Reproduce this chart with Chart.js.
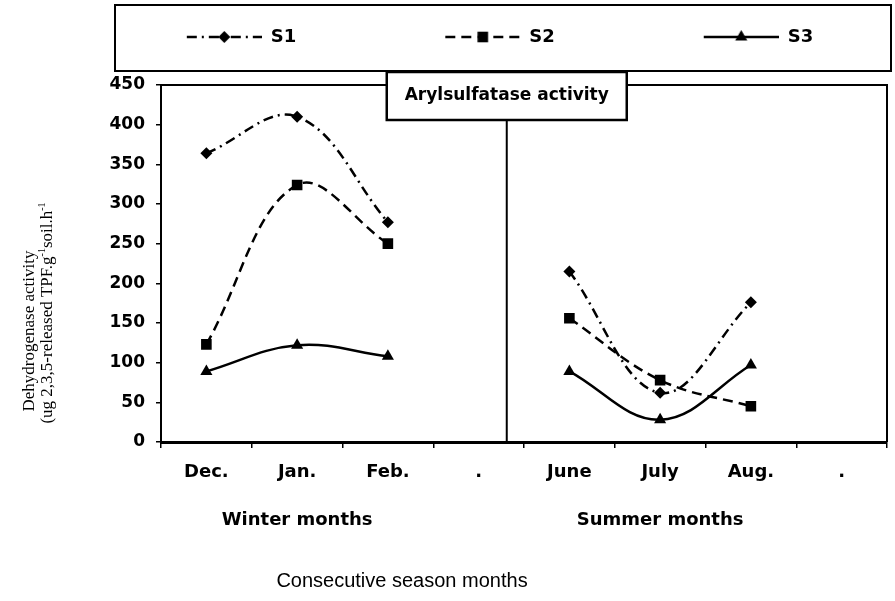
<!DOCTYPE html>
<html><head><meta charset="utf-8">
<script src="https://cdn.jsdelivr.net/npm/chart.js@4.4.0/dist/chart.umd.min.js"></script>
<style>html,body{margin:0;padding:0;background:#fff}#wrap{width:895px;height:601px;position:relative}</style>
</head><body><div id="wrap"><canvas id="c" width="895" height="601"></canvas></div>
<script>
// ---- data ----
const categories = ["Dec.", "Jan.", "Feb.", ".", "June", "July", "Aug.", "."];
const seasonLabels = ["", "Winter months", "", "", "", "Summer months", "", ""];
const seriesNames = ["S1", "S2", "S3"];
const s1Values = [364, 410, 277, null, 215, 62, 176, null];
const s2Values = [123, 324, 250, null, 156, 78, 45, null];
const s3Values = [89, 122, 108, null, 89, 28, 97, null];
const yMin = 0, yMax = 450, yStep = 50;
const panelTitle = "Arylsulfatase activity";
const xTitle = "Consecutive season months";
const yTitle1 = "Dehydrogenase activity";
const yTitle2Parts = [["(ug 2,3,5-released TPF.g", false], ["-1", true], ["soil.h", false], ["-1", true]];

const TICK_FONT = "DejaVu Sans";
const SERIF = "Liberation Serif";

function drawMarker(ctx, style, x, y) {
  ctx.beginPath();
  if (style === 'rectRot') {
    const r = 6;
    ctx.moveTo(x, y - r); ctx.lineTo(x + r, y); ctx.lineTo(x, y + r); ctx.lineTo(x - r, y); ctx.closePath();
  } else if (style === 'rect') {
    const h = 5.3;
    ctx.rect(x - h, y - h, 2 * h, 2 * h);
  } else {
    const r = 7;
    ctx.moveTo(x, y - r);
    ctx.lineTo(x + r * Math.sin(2 * Math.PI / 3), y - r * Math.cos(2 * Math.PI / 3));
    ctx.lineTo(x + r * Math.sin(4 * Math.PI / 3), y - r * Math.cos(4 * Math.PI / 3));
    ctx.closePath();
  }
  ctx.fill();
}

const SAMPLE_W = 188, SAMPLE_LINE = 75;
function makeSample(dash, style) {
  const cv = document.createElement('canvas');
  cv.width = SAMPLE_W; cv.height = 20;
  const g = cv.getContext('2d');
  g.strokeStyle = '#000'; g.fillStyle = '#000'; g.lineWidth = 2.5;
  g.setLineDash(dash);
  g.beginPath(); g.moveTo(SAMPLE_W - SAMPLE_LINE, 10); g.lineTo(SAMPLE_W, 10); g.stroke();
  g.setLineDash([]);
  drawMarker(g, style, SAMPLE_W - SAMPLE_LINE / 2, 10);
  return cv;
}

const dashes = [[10, 5, 2, 5], [10, 6], []];
const styles = ['rectRot', 'rect', 'triangle'];
const radii = [6, 7.5, 7];
const valueSets = [s1Values, s2Values, s3Values];

const datasets = seriesNames.map((name, i) => ({
  label: name,
  data: valueSets[i],
  borderColor: '#000',
  backgroundColor: '#000',
  borderWidth: 2.5,
  borderDash: dashes[i],
  pointStyle: styles[i],
  pointRadius: radii[i],
  pointHoverRadius: radii[i],
  pointBackgroundColor: '#000',
  pointBorderColor: '#000',
  pointBorderWidth: 0,
  tension: 0.38,
  spanGaps: false,
  fill: false
}));
const samples = seriesNames.map((n, i) => makeSample(dashes[i], styles[i]));

const deco = {
  id: 'deco',
  afterLayout(chart) {
    const lg = chart.legend;
    lg.top -= 29; lg.bottom -= 29;
  },
  afterDatasetsDraw(chart) {
    const {ctx, chartArea: a, scales: {x}} = chart;
    ctx.save();
    ctx.strokeStyle = '#000';
    // plot frame (top & right)
    ctx.lineWidth = 2;
    ctx.beginPath();
    ctx.moveTo(a.left, a.top); ctx.lineTo(a.right, a.top); ctx.lineTo(a.right, a.bottom);
    ctx.stroke();
    // divider between seasons
    const x3 = x.getPixelForValue(3), x4 = x.getPixelForValue(4);
    const xd = x3 + 0.31 * (x4 - x3);
    ctx.lineWidth = 2;
    ctx.beginPath(); ctx.moveTo(xd, a.top + 30); ctx.lineTo(xd, a.bottom); ctx.stroke();
    // panel title box
    ctx.font = 'bold 17px "' + TICK_FONT + '"';
    const bw = 240, bh = 48;
    const bx = xd - bw / 2, by = a.top - 13;
    ctx.fillStyle = '#fff';
    ctx.fillRect(bx, by, bw, bh);
    ctx.lineWidth = 2.5;
    ctx.strokeRect(bx, by, bw, bh);
    ctx.fillStyle = '#000';
    ctx.textAlign = 'center'; ctx.textBaseline = 'middle';
    ctx.fillText(panelTitle, bx + bw / 2, by + bh / 2);
    ctx.restore();
  },
  afterDraw(chart) {
    const {ctx, chartArea: a} = chart;
    ctx.save();
    // legend frame
    ctx.strokeStyle = '#000'; ctx.lineWidth = 2;
    ctx.strokeRect(a.left - 46, a.top - 80, a.right + 4 - (a.left - 46), 66);
    // x-axis title
    ctx.fillStyle = '#000';
    ctx.font = '20px "Liberation Sans"';
    ctx.textAlign = 'center'; ctx.textBaseline = 'middle';
    ctx.fillText(xTitle, 402, a.bottom + 139);
    // y-axis title (rotated, two lines)
    ctx.rotate(-Math.PI / 2);
    ctx.textBaseline = 'alphabetic';
    const base = '17px "' + SERIF + '"', sup = '10px "' + SERIF + '"';
    ctx.font = base;
    ctx.textAlign = 'center';
    ctx.fillText(yTitle1, -(a.top + 246), 34);
    // second line with superscripts
    let total = 0;
    yTitle2Parts.forEach(([t, s]) => { ctx.font = s ? sup : base; total += ctx.measureText(t).width; });
    let px = -(a.top + 228) - total / 2;
    ctx.textAlign = 'left';
    yTitle2Parts.forEach(([t, s]) => {
      ctx.font = s ? sup : base;
      ctx.fillText(t, px, 52 + (s ? -7 : 0));
      px += ctx.measureText(t).width;
    });
    ctx.restore();
  }
};

new Chart(document.getElementById('c'), {
  type: 'line',
  data: { labels: categories, datasets },
  plugins: [deco],
  options: {
    responsive: false,
    animation: false,
    devicePixelRatio: 1,
    layout: { padding: { top: 21, left: 0, right: 8, bottom: 0 } },
    plugins: {
      tooltip: { enabled: false },
      title: { display: false },
      legend: {
        display: true,
        position: 'top',
        align: 'center',
        labels: {
          usePointStyle: true,
          pointStyleWidth: SAMPLE_W,
          padding: 36,
          color: '#000',
          font: { family: TICK_FONT, size: 18, weight: 'bold' },
          generateLabels(chart) {
            return chart.data.datasets.map((d, i) => ({
              text: d.label,
              pointStyle: samples[i],
              fillStyle: '#000',
              strokeStyle: '#000',
              fontColor: '#000',
              lineWidth: 0,
              hidden: false,
              datasetIndex: i
            }));
          }
        }
      }
    },
    scales: {
      x: {
        type: 'category',
        offset: true,
        grid: { drawOnChartArea: false, offset: true, tickLength: 6, color: '#000', lineWidth: 1.5 },
        border: { display: true, color: '#000', width: 3 },
        ticks: {
          color: '#000',
          padding: 0,
          maxRotation: 0,
          autoSkip: false,
          font: { family: TICK_FONT, size: 18, weight: 'bold', lineHeight: '48px' },
          callback: (v, i) => seasonLabels[i] ? [categories[i], seasonLabels[i]] : categories[i]
        },
        afterFit(s) { s.height = 159; }
      },
      y: {
        min: yMin, max: yMax,
        grid: { drawOnChartArea: false, tickLength: 5, color: '#000', lineWidth: 1.5 },
        border: { display: true, color: '#000', width: 2 },
        ticks: {
          stepSize: yStep,
          color: '#000',
          padding: 11,
          font: { family: TICK_FONT, size: 17, weight: 'bold' }
        },
        afterFit(s) { s.width = 161; }
      }
    }
  }
});
</script></body></html>
